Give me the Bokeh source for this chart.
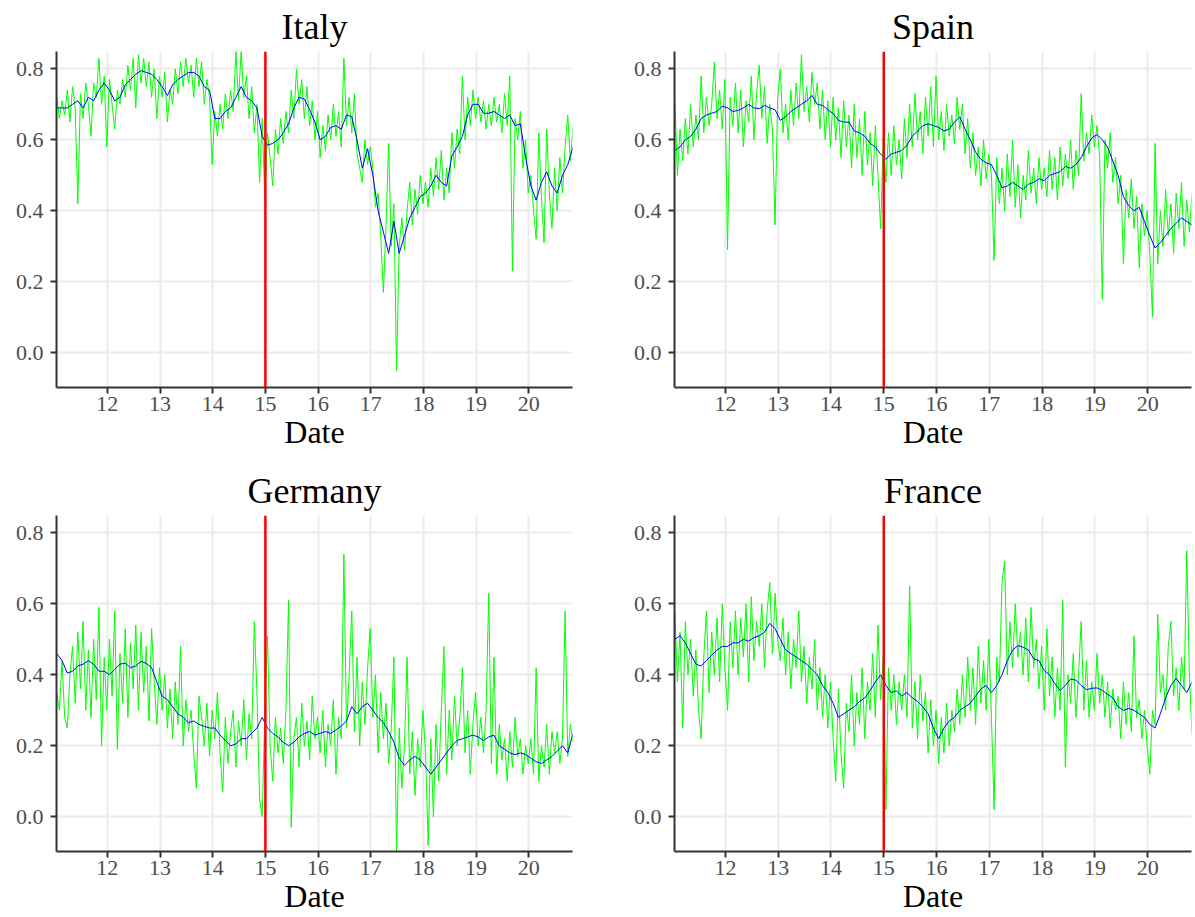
import numpy as np
from bokeh.plotting import figure
from bokeh.layouts import gridplot
from bokeh.models import Range1d, FixedTicker, PrintfTickFormatter, Span
from bokeh.embed import file_html
from bokeh.resources import INLINE

# ---------------- data ----------------
countries = ["Italy", "Spain", "Germany", "France"]
year_ticks = [12, 13, 14, 15, 16, 17, 18, 19, 20]
value_ticks = [0.0, 0.2, 0.4, 0.6, 0.8]
break_year = 15
green_start, green_step = 11.04, 0.05
blue_start, blue_step = 11.04, 0.1

italy_green = [
    0.72, 0.66, 0.71, 0.67, 0.74, 0.65, 0.75, 0.69, 0.42, 0.73, 0.66, 0.76, 0.70, 0.61, 0.76, 0.72, 0.83, 0.70, 0.78, 0.58,
    0.77, 0.70, 0.63, 0.74, 0.70, 0.77, 0.72, 0.81, 0.74, 0.83, 0.69, 0.84, 0.76, 0.83, 0.75, 0.82, 0.72, 0.80, 0.66, 0.78,
    0.72, 0.79, 0.65, 0.74, 0.70, 0.80, 0.73, 0.82, 0.75, 0.83, 0.76, 0.81, 0.72, 0.83, 0.75, 0.82, 0.70, 0.77, 0.72, 0.53,
    0.68, 0.61, 0.70, 0.63, 0.73, 0.66, 0.74, 0.68, 0.85, 0.71, 0.85, 0.72, 0.78, 0.66, 0.75, 0.62, 0.70, 0.48, 0.66, 0.43,
    0.62, 0.55, 0.47, 0.63, 0.56, 0.66, 0.59, 0.68, 0.62, 0.74, 0.66, 0.80, 0.70, 0.77, 0.66, 0.75, 0.64, 0.71, 0.60, 0.68,
    0.55, 0.64, 0.57, 0.67, 0.60, 0.70, 0.61, 0.68, 0.58, 0.83, 0.64, 0.72, 0.62, 0.73, 0.56, 0.52, 0.48, 0.60, 0.53, 0.58,
    0.52, 0.41, 0.45, 0.33, 0.17, 0.36, 0.59, 0.30, 0.42, -0.05, 0.30, 0.38, 0.29, 0.40, 0.48, 0.36, 0.46, 0.39, 0.50, 0.42,
    0.48, 0.41, 0.52, 0.44, 0.55, 0.46, 0.57, 0.43, 0.52, 0.45, 0.62, 0.52, 0.63, 0.56, 0.78, 0.60, 0.72, 0.64, 0.74, 0.66,
    0.72, 0.65, 0.71, 0.63, 0.70, 0.64, 0.72, 0.65, 0.70, 0.62, 0.73, 0.64, 0.78, 0.23, 0.66, 0.60, 0.68, 0.52, 0.60, 0.45,
    0.50, 0.40, 0.32, 0.62, 0.44, 0.31, 0.63, 0.45, 0.35, 0.52, 0.40, 0.55, 0.45, 0.58, 0.67, 0.54, 0.64,
]
italy_blue = [
    0.69, 0.69, 0.69, 0.70, 0.71, 0.69, 0.72, 0.71, 0.74, 0.76,
    0.74, 0.71, 0.72, 0.755, 0.77, 0.785, 0.795, 0.79, 0.785, 0.77,
    0.75, 0.725, 0.755, 0.77, 0.78, 0.79, 0.79, 0.78, 0.75, 0.74,
    0.66, 0.66, 0.68, 0.69, 0.72, 0.75, 0.72, 0.71, 0.69, 0.61,
    0.585, 0.59, 0.60, 0.62, 0.645, 0.69, 0.72, 0.715, 0.685, 0.65,
    0.60, 0.61, 0.635, 0.64, 0.63, 0.67, 0.665, 0.60, 0.52, 0.575,
    0.50, 0.40, 0.34, 0.28, 0.37, 0.28, 0.33, 0.38, 0.41, 0.44,
    0.45, 0.47, 0.50, 0.48, 0.47, 0.555, 0.58, 0.61, 0.67, 0.70,
    0.70, 0.675, 0.675, 0.68, 0.67, 0.66, 0.67, 0.64, 0.645, 0.55,
    0.47, 0.43, 0.48, 0.51, 0.47, 0.45, 0.50, 0.53, 0.58,
]

spain_green = [
    0.72, 0.50, 0.63, 0.54, 0.66, 0.56, 0.70, 0.58, 0.67, 0.60, 0.78, 0.62, 0.72, 0.64, 0.70, 0.82, 0.66, 0.74, 0.63, 0.77,
    0.29, 0.72, 0.64, 0.76, 0.62, 0.74, 0.58, 0.71, 0.65, 0.78, 0.60, 0.73, 0.81, 0.66, 0.75, 0.59, 0.70, 0.63, 0.36, 0.72,
    0.80, 0.62, 0.70, 0.60, 0.74, 0.64, 0.76, 0.66, 0.84, 0.68, 0.75, 0.65, 0.79, 0.70, 0.76, 0.63, 0.74, 0.60, 0.71, 0.58,
    0.72, 0.60, 0.69, 0.55, 0.71, 0.58, 0.67, 0.52, 0.70, 0.55, 0.66, 0.50, 0.68, 0.53, 0.62, 0.47, 0.64, 0.50, 0.35, 0.60,
    0.48, 0.62, 0.50, 0.64, 0.53, 0.60, 0.49, 0.66, 0.55, 0.70, 0.58, 0.73, 0.60, 0.68, 0.56, 0.72, 0.61, 0.75, 0.58, 0.78,
    0.60, 0.68, 0.57, 0.70, 0.61, 0.67, 0.59, 0.72, 0.63, 0.70, 0.56, 0.66, 0.52, 0.62, 0.50, 0.58, 0.47, 0.60, 0.49, 0.56,
    0.50, 0.26, 0.55, 0.42, 0.52, 0.40, 0.56, 0.44, 0.60, 0.41, 0.53, 0.38, 0.50, 0.43, 0.57, 0.45, 0.52, 0.42, 0.55, 0.46,
    0.52, 0.44, 0.57, 0.46, 0.55, 0.43, 0.58, 0.47, 0.56, 0.49, 0.60, 0.46, 0.57, 0.50, 0.73, 0.54, 0.62, 0.56, 0.67, 0.58,
    0.64, 0.55, 0.15, 0.60, 0.52, 0.62, 0.48, 0.55, 0.42, 0.50, 0.25, 0.46, 0.38, 0.49, 0.35, 0.44, 0.24, 0.42, 0.33, 0.40,
    0.28, 0.10, 0.59, 0.25, 0.40, 0.30, 0.46, 0.33, 0.42, 0.28, 0.45, 0.35, 0.48, 0.30, 0.43, 0.34, 0.45,
]
spain_blue = [
    0.57, 0.58, 0.60, 0.61, 0.63, 0.66, 0.67, 0.675, 0.68, 0.695,
    0.69, 0.68, 0.683, 0.69, 0.70, 0.69, 0.688, 0.697, 0.69, 0.685,
    0.655, 0.665, 0.68, 0.69, 0.70, 0.71, 0.725, 0.70, 0.697, 0.685,
    0.674, 0.655, 0.65, 0.65, 0.625, 0.62, 0.61, 0.59, 0.58, 0.56,
    0.545, 0.56, 0.565, 0.57, 0.585, 0.61, 0.625, 0.64, 0.645, 0.64,
    0.635, 0.625, 0.63, 0.65, 0.665, 0.63, 0.60, 0.565, 0.545, 0.535,
    0.53, 0.50, 0.465, 0.47, 0.48, 0.47, 0.46, 0.475, 0.48, 0.49,
    0.485, 0.50, 0.505, 0.51, 0.525, 0.52, 0.53, 0.55, 0.58, 0.605,
    0.615, 0.60, 0.58, 0.54, 0.50, 0.44, 0.415, 0.40, 0.41, 0.37,
    0.33, 0.295, 0.31, 0.33, 0.35, 0.365, 0.38, 0.37, 0.36,
]

germany_green = [
    0.35, 0.30, 0.44, 0.28, 0.25, 0.40, 0.48, 0.32, 0.52, 0.36, 0.55, 0.30, 0.47, 0.28, 0.50, 0.33, 0.59, 0.20, 0.45, 0.30,
    0.50, 0.34, 0.58, 0.19, 0.46, 0.32, 0.53, 0.28, 0.49, 0.36, 0.54, 0.30, 0.52, 0.35, 0.48, 0.27, 0.53, 0.38, 0.26, 0.42,
    0.30, 0.40, 0.25, 0.36, 0.22, 0.38, 0.26, 0.48, 0.20, 0.33, 0.24, 0.30, 0.18, 0.08, 0.34, 0.28, 0.20, 0.32, 0.17, 0.30,
    0.22, 0.35, 0.18, 0.07, 0.28, 0.15, 0.24, 0.30, 0.14, 0.27, 0.20, 0.33, 0.16, 0.29, 0.22, 0.55, 0.35, 0.05, 0.00, 0.30,
    0.51, 0.20, 0.10, 0.28, 0.18, 0.25, 0.15, 0.30, 0.61, -0.03, 0.22, 0.28, 0.14, 0.32, 0.20, 0.27, 0.16, 0.34, 0.22, 0.28,
    0.18, 0.30, 0.14, 0.26, 0.20, 0.33, 0.12, 0.28, 0.22, 0.74, 0.25, 0.40, 0.58, 0.24, 0.45, 0.20, 0.38, 0.26, 0.42, 0.53,
    0.28, 0.40, 0.18, 0.35, 0.22, 0.32, 0.15, 0.25, 0.45, -0.10, 0.25, 0.08, 0.20, 0.45, 0.12, 0.24, 0.06, 0.22, 0.14, 0.30,
    0.18, -0.08, 0.22, 0.00, 0.26, 0.10, 0.30, 0.48, 0.12, 0.30, 0.16, 0.34, 0.20, 0.28, 0.42, 0.18, 0.30, 0.12, 0.26, 0.35,
    0.20, 0.28, 0.18, 0.30, 0.63, 0.15, 0.45, 0.12, 0.26, 0.16, 0.22, 0.10, 0.24, 0.14, 0.28, 0.17, 0.22, 0.12, 0.20, 0.15,
    0.22, 0.12, 0.42, 0.10, 0.20, 0.14, 0.26, 0.12, 0.24, 0.18, 0.24, 0.15, 0.22, 0.58, 0.17, 0.26, 0.21,
]
germany_blue = [
    0.46, 0.44, 0.405, 0.41, 0.425, 0.43, 0.44, 0.43, 0.41, 0.41,
    0.40, 0.415, 0.43, 0.433, 0.42, 0.425, 0.438, 0.432, 0.42, 0.38,
    0.34, 0.33, 0.31, 0.29, 0.28, 0.265, 0.27, 0.26, 0.255, 0.25,
    0.25, 0.23, 0.215, 0.20, 0.205, 0.22, 0.22, 0.235, 0.25, 0.28,
    0.25, 0.235, 0.225, 0.21, 0.20, 0.21, 0.225, 0.235, 0.24, 0.23,
    0.235, 0.24, 0.235, 0.245, 0.255, 0.27, 0.31, 0.29, 0.31, 0.32,
    0.30, 0.28, 0.265, 0.24, 0.21, 0.165, 0.145, 0.16, 0.17, 0.16,
    0.14, 0.12, 0.14, 0.16, 0.18, 0.20, 0.215, 0.22, 0.225, 0.23,
    0.225, 0.215, 0.225, 0.23, 0.20, 0.19, 0.18, 0.175, 0.18, 0.175,
    0.165, 0.155, 0.15, 0.16, 0.17, 0.185, 0.20, 0.18, 0.235,
]

france_green = [
    0.58, 0.38, 0.52, 0.25, 0.55, 0.40, 0.50, 0.34, 0.47, 0.30, 0.22, 0.45, 0.58, 0.35, 0.52, 0.40, 0.56, 0.38, 0.60, 0.42,
    0.30, 0.55, 0.42, 0.58, 0.40, 0.56, 0.45, 0.60, 0.38, 0.62, 0.44, 0.55, 0.48, 0.60, 0.42, 0.58, 0.66, 0.46, 0.63, 0.50,
    0.44, 0.56, 0.40, 0.52, 0.36, 0.50, 0.42, 0.58, 0.38, 0.48, 0.32, 0.45, 0.36, 0.50, 0.30, 0.42, 0.28, 0.40, 0.25, 0.38,
    0.22, 0.10, 0.36, 0.18, 0.08, 0.32, 0.24, 0.40, 0.20, 0.35, 0.26, 0.42, 0.22, 0.38, 0.30, 0.46, 0.28, 0.54, 0.33, 0.45,
    0.02, 0.42, 0.30, 0.40, 0.26, 0.38, 0.30, 0.40, 0.28, 0.65, 0.25, 0.38, 0.22, 0.40, 0.27, 0.35, 0.18, 0.33, 0.20, 0.30,
    0.15, 0.28, 0.18, 0.32, 0.20, 0.30, 0.24, 0.36, 0.26, 0.40, 0.28, 0.45, 0.30, 0.42, 0.26, 0.48, 0.32, 0.44, 0.30, 0.50,
    0.28, 0.02, 0.45, 0.38, 0.66, 0.72, 0.40, 0.55, 0.42, 0.60, 0.45, 0.52, 0.40, 0.56, 0.38, 0.59, 0.42, 0.50, 0.36, 0.48,
    0.30, 0.53, 0.34, 0.45, 0.28, 0.42, 0.30, 0.61, 0.14, 0.40, 0.32, 0.46, 0.28, 0.40, 0.55, 0.30, 0.44, 0.28, 0.38, 0.30,
    0.46, 0.32, 0.40, 0.28, 0.38, 0.25, 0.36, 0.30, 0.34, 0.22, 0.38, 0.26, 0.35, 0.24, 0.51, 0.28, 0.33, 0.22, 0.30, 0.20,
    0.12, 0.30, 0.26, 0.57, 0.35, 0.40, 0.30, 0.48, 0.55, 0.34, 0.42, 0.30, 0.45, 0.36, 0.75, 0.40, 0.23,
]
france_blue = [
    0.50, 0.51, 0.49, 0.46, 0.43, 0.425, 0.44, 0.455, 0.47, 0.48,
    0.48, 0.49, 0.49, 0.50, 0.495, 0.505, 0.51, 0.52, 0.545, 0.53,
    0.50, 0.47, 0.46, 0.45, 0.44, 0.43, 0.415, 0.40, 0.37, 0.35,
    0.32, 0.28, 0.29, 0.30, 0.31, 0.325, 0.335, 0.355, 0.38, 0.40,
    0.37, 0.35, 0.355, 0.34, 0.35, 0.335, 0.325, 0.31, 0.29, 0.25,
    0.22, 0.25, 0.27, 0.28, 0.30, 0.31, 0.32, 0.34, 0.36, 0.37,
    0.35, 0.37, 0.40, 0.44, 0.47, 0.482, 0.478, 0.47, 0.445, 0.44,
    0.412, 0.40, 0.375, 0.356, 0.37, 0.388, 0.385, 0.37, 0.358, 0.362,
    0.363, 0.356, 0.345, 0.335, 0.31, 0.30, 0.305, 0.30, 0.29, 0.28,
    0.26, 0.25, 0.29, 0.335, 0.37, 0.39, 0.37, 0.35, 0.38,
]

series = {
    "Italy": (italy_green, italy_blue),
    "Spain": (spain_green, spain_blue),
    "Germany": (germany_green, germany_blue),
    "France": (france_green, france_blue),
}

# ---------------- style ----------------
SERIF = "Liberation Serif"
AXIS_COLOR = "#333333"
GRID_COLOR = "#EBEBEB"


def make_panel(name, left_col, top_row):
    green, blue = series[name]
    gx = green_start + green_step * np.arange(len(green))
    bx = blue_start + blue_step * np.arange(len(blue))
    p = figure(
        frame_width=516 if left_col else 517,
        frame_height=336,
        x_range=Range1d(11.035, 20.83),
        y_range=Range1d(-0.098, 0.849),
        output_backend="svg",
        toolbar_location=None,
        min_border_left=56 if left_col else 54,
        min_border_right=48 if left_col else 2,
        min_border_top=0,
        min_border_bottom=77 if top_row else 60,
        background_fill_color="white",
        border_fill_color="white",
    )
    p.outline_line_color = None
    p.line(gx, green, line_color="#00FF00", line_width=1)
    p.line(bx, blue, line_color="#0000FF", line_width=1)
    p.add_layout(Span(location=break_year, dimension="height",
                      line_color="#FF0000", line_width=2.5))

    p.title.text = name
    p.title.text_font = SERIF
    p.title.text_font_size = "36px"
    p.title.text_font_style = "normal"
    p.title.text_color = "black"
    p.title.align = "center"
    p.title.standoff = 9

    xt = FixedTicker(ticks=year_ticks)
    yt = FixedTicker(ticks=value_ticks)
    p.xaxis.ticker = xt
    p.yaxis.ticker = yt
    p.xgrid.ticker = xt
    p.ygrid.ticker = yt
    p.xaxis.formatter = PrintfTickFormatter(format="%d")
    p.yaxis.formatter = PrintfTickFormatter(format="%.1f")
    for g in (p.xgrid, p.ygrid):
        g.grid_line_color = GRID_COLOR
        g.grid_line_width = 2

    for ax in (p.xaxis, p.yaxis):
        ax.axis_line_color = AXIS_COLOR
        ax.axis_line_width = 2
        ax.major_tick_line_color = AXIS_COLOR
        ax.major_tick_line_width = 2
        ax.major_tick_out = 6
        ax.major_tick_in = 0
        ax.minor_tick_line_color = None
        ax.major_label_text_font = SERIF
        ax.major_label_text_font_size = "22px"
        ax.major_label_text_color = "#4D4D4D"
    p.xaxis.major_label_standoff = 3
    p.yaxis.major_label_standoff = 7
    p.xaxis.axis_label = "Date"
    p.xaxis.axis_label_text_font = SERIF
    p.xaxis.axis_label_text_font_size = "32px"
    p.xaxis.axis_label_text_font_style = "normal"
    p.xaxis.axis_label_text_color = "black"
    p.xaxis.axis_label_standoff = 0
    return p


panels = [
    [make_panel("Italy", True, True), make_panel("Spain", False, True)],
    [make_panel("Germany", True, False), make_panel("France", False, False)],
]
layout = gridplot(panels, toolbar_location=None)

open("out.html", "w").write(file_html(layout, INLINE))
